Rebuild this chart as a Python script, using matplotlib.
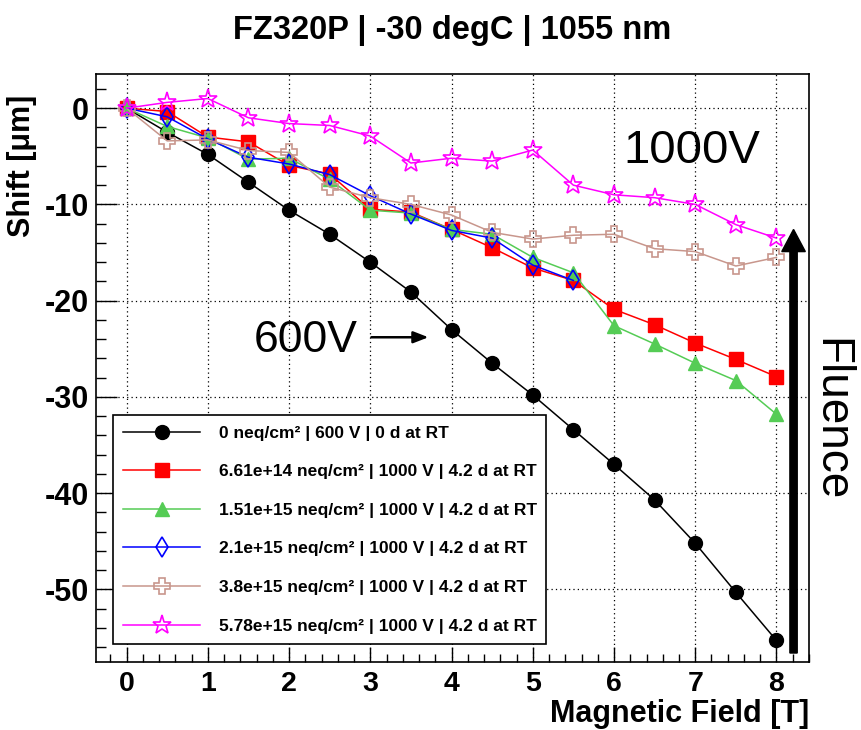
import numpy as np
import matplotlib
matplotlib.use('Agg')
import matplotlib.pyplot as plt
from matplotlib.ticker import MultipleLocator

plt.rcParams['font.family'] = ['Liberation Sans', 'DejaVu Sans']
plt.rcParams['axes.unicode_minus'] = False

# Data ########################################################
field = [0, 0.5, 1, 1.5, 2, 2.5, 3, 3.5, 4, 4.5, 5, 5.5, 6, 6.5, 7, 7.5, 8]

shift_0 = [0, -2.5, -4.8, -7.7, -10.6, -13.1, -16.0, -19.1, -23.0, -26.5,
           -29.8, -33.4, -37.0, -40.7, -45.2, -50.3, -55.3]
shift_661e14 = [0, -0.35, -3.0, -3.5, -5.95, -6.85, -10.5, -10.8, -12.6, -14.5,
                -16.6, -17.9, -20.9, -22.5, -24.4, -26.1, -27.9]
shift_151e15 = [0, -1.9, -3.1, -5.3, -5.2, -7.4, -10.6, -10.9, -12.6, -13.1,
                -15.5, -17.1, -22.6, -24.5, -26.5, -28.3, -31.8]
shift_21e15 = [0, -0.9, -3.2, -5.1, -5.8, -6.9, -9.1, -11.0, -12.7, -13.5,
               -16.3, -17.9]
shift_38e15 = [0, -3.4, -3.3, -4.4, -4.6, -8.2, -9.3, -10.0, -11.1, -12.9,
               -13.6, -13.2, -13.1, -14.6, -14.9, -16.4, -15.5]
shift_578e15 = [0, 0.6, 1.0, -1.0, -1.6, -1.8, -2.9, -5.7, -5.2, -5.5,
                -4.35, -8.0, -9.0, -9.3, -10.0, -12.1, -13.5]

labels = ['0 neq/cm\u00b2 | 600 V | 0 d at RT',
          '6.61e+14 neq/cm\u00b2 | 1000 V | 4.2 d at RT',
          '1.51e+15 neq/cm\u00b2 | 1000 V | 4.2 d at RT',
          '2.1e+15 neq/cm\u00b2 | 1000 V | 4.2 d at RT',
          '3.8e+15 neq/cm\u00b2 | 1000 V | 4.2 d at RT',
          '5.78e+15 neq/cm\u00b2 | 1000 V | 4.2 d at RT']
###############################################################

fig = plt.figure(figsize=(8.62, 7.30), dpi=100)
ax = fig.add_axes([0.111, 0.0936, 0.8275, 0.8044])

series = [shift_0, shift_661e14, shift_151e15, shift_21e15, shift_38e15, shift_578e15]
styles = [
    dict(color='black', marker='o', ms=10, mfc='black', mec='black'),
    dict(color='#ff0000', marker='s', ms=10, mfc='#ff0000', mec='#ff0000'),
    dict(color='#55cc55', marker='^', ms=10, mfc='#55cc55', mec='#55cc55'),
    dict(color='#0000ff', marker='d', ms=10, mfc='none', mec='#0000ff', mew=1.2),
    dict(color='#c8968c', marker='P', ms=12, mfc='none', mec='#c8968c', mew=1.2),
    dict(color='#ff00ff', marker='*', ms=14, mfc='none', mec='#ff00ff', mew=1.2),
]
for y, st, lab in zip(series, styles, labels):
    ax.plot(field[:len(y)], y, lw=1.1, label=lab, **st)

ax.set_xlim(-0.38, 8.40)
ax.set_ylim(-57.5, 3.5)

# ROOT-like axes ##############################################
ax.xaxis.set_major_locator(MultipleLocator(1))
ax.xaxis.set_minor_locator(MultipleLocator(0.2))
ax.yaxis.set_major_locator(MultipleLocator(10))
ax.yaxis.set_minor_locator(MultipleLocator(2))
ax.tick_params(axis='x', which='major', direction='in', length=11, width=1, pad=7)
ax.tick_params(axis='x', which='minor', direction='in', length=5.5, width=1)
ax.tick_params(axis='y', which='major', direction='in', length=15, width=1, pad=5)
ax.tick_params(axis='y', which='minor', direction='in', length=7.5, width=1)
ax.tick_params(axis='x', labelsize=20.5)
ax.tick_params(axis='y', labelsize=22)
for t in ax.get_xticklabels() + ax.get_yticklabels():
    t.set_fontweight('bold')
for s in ax.spines.values():
    s.set_linewidth(1.2)
ax.grid(True, which='major', color='black', lw=0.9, linestyle=(0, (1, 2.5)))

ax.set_xlabel('Magnetic Field [T]', fontsize=22, fontweight='bold', loc='right')
ax.xaxis.set_label_coords(1.0, -0.063)
ax.set_ylabel('Shift [\u03bcm]', fontsize=22, fontweight='bold', loc='top')
ax.yaxis.set_label_coords(-0.082, 0.966)
fig.text(0.524, 0.958, 'FZ320P | -30 degC | 1055 nm', ha='center', va='center',
         fontsize=23.5, fontweight='bold')

leg = ax.legend(loc='lower left', bbox_to_anchor=(0.0243, 0.030, 0.607, 0.3985),
                mode='expand', borderaxespad=0, fancybox=False, framealpha=1,
                edgecolor='black', prop=dict(size=12.5, weight='bold'),
                handlelength=4.4, handletextpad=1.1, labelspacing=1.35, borderpad=0.6)
leg.get_frame().set_linewidth(1.2)

# Annotations #################################################
ax.text(2.21, -24.1, '600V', fontsize=32, ha='center', va='center')
ax.annotate('', xy=(3.75, -23.8), xytext=(2.98, -23.8),
            arrowprops=dict(arrowstyle='-|>,head_width=0.35,head_length=0.9',
                            color='black', lw=1.8))
ax.text(6.96, -4.4, '1000V', fontsize=34, ha='center', va='center')
ax.arrow(8.21, -56.6, 0, 44.0, width=0.09, head_width=0.29, head_length=2.3,
         length_includes_head=True, color='black', clip_on=False)
fig.text(0.963, 0.425, 'Fluence', fontsize=33, rotation=-90, ha='center', va='center')

fig.savefig('out.png', dpi=100)
